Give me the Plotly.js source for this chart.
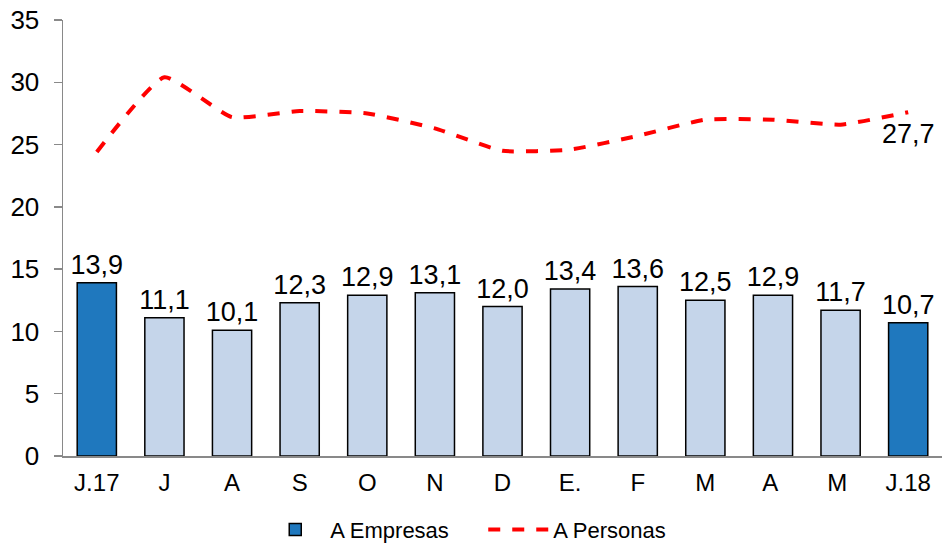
<!DOCTYPE html>
<html>
<head>
<meta charset="utf-8">
<script src="https://cdn.plot.ly/plotly-3.0.1.min.js"></script>
<style>html,body{margin:0;padding:0;background:#fff;}#chart{width:942px;height:545px;}</style>
</head>
<body>
<div id="chart"></div>
<script>
const categories = ["J.17","J","A","S","O","N","D","E.","F","M","A ","M ","J.18"];
const empresas = [13.9,11.1,10.1,12.3,12.9,13.1,12.0,13.4,13.6,12.5,12.9,11.7,10.7];
const personas = [24.4,30.4,27.2,27.7,27.5,26.3,24.5,24.6,25.7,27.0,27.0,26.6,27.6];
const lastPersonaLabel = "27,7";

const barColors = categories.map((c,i)=> (i===0||i===categories.length-1) ? "#1F78BE" : "#C5D5EA");
const lastIdx = categories.length - 1;

const traces = [
  {
    type: "bar",
    name: "A Empresas",
    x: categories,
    y: empresas,
    marker: {color: barColors, line: {color: "#000000", width: 1.5}},
    texttemplate: "%{y:.1f}",
    textposition: "outside",
    constraintext: "none",
    textfont: {family: "Liberation Sans, Arial, sans-serif", size: 27, color: "#000"},
    cliponaxis: false,
    hoverinfo: "skip"
  },
  {
    type: "scatter",
    mode: "lines",
    name: "A Personas",
    x: categories,
    y: personas,
    line: {color: "#FF0000", width: 4, dash: "dash", shape: "spline", smoothing: 0.45},
    cliponaxis: false,
    hoverinfo: "skip"
  }
];

const layout = {
  width: 942, height: 545,
  margin: {l: 63, r: 0, t: 20, b: 89},
  paper_bgcolor: "#fff", plot_bgcolor: "#fff",
  separators: ",.",
  bargap: 0.42,
  showlegend: true,
  font: {family: "Liberation Sans, Arial, sans-serif", color: "#000"},
  xaxis: {
    type: "category",
    range: [-0.5, 12.5], autorange: false,
    showline: true, linecolor: "#898989", linewidth: 1.5,
    ticks: "", showgrid: false, zeroline: false,
    ticklabelstandoff: 5,
    tickfont: {size: 24, color: "#000"}
  },
  yaxis: {
    range: [0, 35], dtick: 5, autorange: false,
    showline: true, linecolor: "#898989", linewidth: 1.5,
    ticks: "outside", ticklen: 8, tickcolor: "#898989", tickwidth: 1.5,
    showgrid: false, zeroline: false,
    ticklabelstandoff: 9,
    tickfont: {size: 26, color: "#000"}
  },
  annotations: [{
    x: categories[lastIdx], y: personas[lastIdx], xref: "x", yref: "y",
    text: lastPersonaLabel, showarrow: false, yshift: -22,
    font: {size: 27, color: "#000", family: "Liberation Sans, Arial, sans-serif"}
  }],
  legend: {
    orientation: "h", xref: "container", yref: "container",
    x: 0.513, xanchor: "center", y: 0.028, yanchor: "middle",
    font: {size: 22, color: "#000"}, itemwidth: 60, entrywidth: 148
  }
};

Plotly.newPlot("chart", traces, layout, {displayModeBar: false, staticPlot: true});
</script>
</body>
</html>
